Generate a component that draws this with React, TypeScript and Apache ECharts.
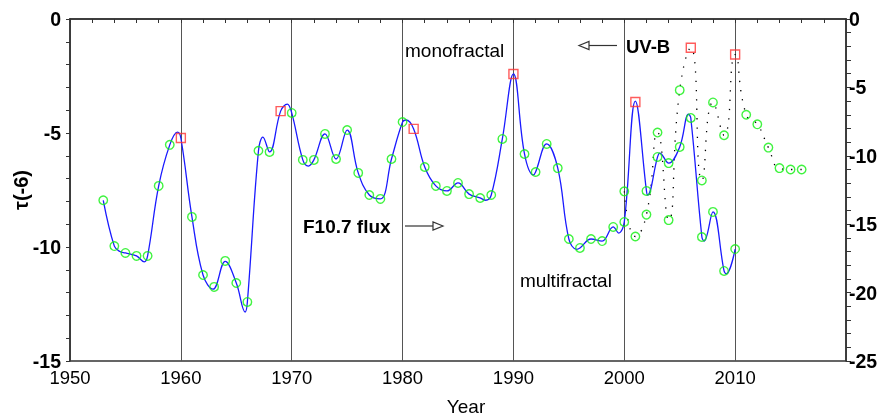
import React, { useEffect, useRef } from "react";
import * as echarts from "echarts";

// F10.7 flux annual values (left axis, green circles)
const circleYears = [1953,1954,1955,1956,1957,1958,1959,1961,1962,1963,1964,1965,1966,1967,1968,1970,1971,1972,1973,1974,1975,1976,1977,1978,1979,1980,1982,1983,1984,1985,1986,1987,1988,1989,1991,1992,1993,1994,1995,1996,1997,1998,1999,2000,2002,2003,2004,2005,2006,2007,2008,2009,2010];
const circleValues = [-7.95,-9.96,-10.26,-10.39,-10.39,-7.32,-5.52,-8.68,-11.23,-11.75,-10.61,-11.58,-12.41,-5.78,-5.83,-4.12,-6.18,-6.18,-5.04,-6.14,-4.87,-6.75,-7.72,-7.89,-6.14,-4.52,-6.49,-7.32,-7.54,-7.19,-7.68,-7.85,-7.72,-5.26,-5.92,-6.71,-5.48,-6.54,-9.65,-10.04,-9.65,-9.74,-9.12,-8.9,-7.54,-6.05,-6.32,-5.61,-4.34,-9.56,-8.46,-11.05,-10.09];

// Blue F10.7 curve (left axis)
const curveYears = [1953,1954,1954.5,1955,1956,1956.7,1957,1958,1959,1959.7,1960,1961,1962,1962.9,1964,1965,1965.8,1966,1967,1967.4,1968,1969,1969.6,1970,1971,1971.5,1972,1973,1974,1975,1976,1977,1978,1979,1980,1980.3,1981,1982,1983,1984,1985,1986,1987,1987.5,1988,1989,1990,1991,1991.8,1992,1993,1994,1995,1995.7,1996,1997,1998,1999,1999.5,2000,2001,2002,2002.1,2003,2003.2,2004,2005,2005.8,2006,2007,2007.2,2008,2009,2009.2,2010];
const curveValues = [-7.95,-9.96,-10.2,-10.26,-10.39,-10.65,-10.39,-7.32,-5.52,-4.96,-5.22,-8.68,-11.23,-11.85,-10.63,-11.58,-12.85,-12.41,-5.78,-5.18,-5.83,-4.04,-3.73,-4.12,-6.18,-6.45,-6.18,-5.04,-6.14,-4.87,-6.75,-7.72,-7.89,-6.14,-4.52,-4.43,-4.82,-6.49,-7.32,-7.54,-7.19,-7.68,-7.85,-7.95,-7.72,-5.26,-2.41,-5.92,-6.84,-6.71,-5.48,-6.54,-9.65,-10.1,-10.04,-9.65,-9.74,-9.12,-9.39,-8.9,-3.6,-7.54,-7.72,-6.05,-5.88,-6.32,-5.61,-4.17,-4.34,-9.56,-9.74,-8.46,-11.05,-11.18,-10.09];

// Solar-maximum markers (red squares, left axis)
const maxYears = [1960,1969,1981,1990,2001];
const maxValues = [-5.22,-4.04,-4.82,-2.41,-3.64];

// UV-B annual values (right axis)
const uvbYears = [2000,2001,2002,2003,2004,2005,2006,2007,2008,2009,2010,2011,2012,2013,2014,2015,2016];
const uvbValues = [-12.6,-15.9,-14.3,-8.3,-14.7,-5.2,-2.1,-11.8,-6.1,-8.5,-2.6,-7.0,-7.7,-9.4,-10.9,-11.0,-11.0];
const uvbMaxYears = [2006,2010];

const xTicks = [1950,1960,1970,1980,1990,2000,2010];

const GREEN = "#11f011";
const RED = "#ff3333";
const BLUE = "#1a1aff";
const AX = "#333";

export default function App() {
  const ref = useRef<HTMLDivElement>(null);
  useEffect(() => {
    const chart = echarts.init(ref.current!, null, { renderer: "svg" });
    const zip = (xs: number[], ys: number[]) => xs.map((x, i) => [x, ys[i]]);
    const uvbCircles = uvbYears
      .map((y, i) => [y, uvbValues[i]])
      .filter((p) => !uvbMaxYears.includes(p[0]));
    const uvbSquares = uvbYears
      .map((y, i) => [y, uvbValues[i]])
      .filter((p) => uvbMaxYears.includes(p[0]));
    const font = "'Liberation Sans', Arial, sans-serif";
    chart.setOption({
      animation: false,
      grid: { left: 70, right: 48, top: 19, bottom: 56, show: true, borderColor: AX, borderWidth: 1.5 },
      xAxis: {
        type: "value",
        min: 1950,
        max: 2020,
        interval: 10,
        axisLine: { lineStyle: { color: AX, width: 1.5 } },
        axisTick: { show: true, length: 4, lineStyle: { color: AX } },
        minorTick: { show: true, splitNumber: 5, length: 4, lineStyle: { color: AX } },
        splitLine: { show: true, lineStyle: { color: "#555", width: 1 } },
        axisLabel: {
          fontFamily: font,
          fontSize: 18.5,
          color: "#000",
          margin: 7,
          formatter: (v: number) => (xTicks.includes(v) ? String(v) : ""),
        },
      },
      yAxis: [
        {
          type: "value",
          min: -15,
          max: 0,
          interval: 5,
          axisLine: { show: true, lineStyle: { color: AX, width: 1.5 } },
          axisTick: { show: true, length: 4, lineStyle: { color: AX } },
          minorTick: { show: true, splitNumber: 5, length: 4, lineStyle: { color: AX } },
          splitLine: { show: false },
          axisLabel: { fontFamily: font, fontSize: 19.5, fontWeight: "bold", color: "#000", margin: 9 },
        },
        {
          type: "value",
          min: -25,
          max: 0,
          interval: 5,
          position: "right",
          axisLine: { show: true, lineStyle: { color: AX, width: 1.5 } },
          axisTick: { show: true, length: 5, lineStyle: { color: AX } },
          minorTick: { show: true, splitNumber: 5, length: 5, lineStyle: { color: AX } },
          splitLine: { show: false },
          axisLabel: { fontFamily: font, fontSize: 19.5, fontWeight: "bold", color: "#000", margin: 3 },
        },
      ],
      series: [
        {
          type: "line",
          yAxisIndex: 1,
          data: zip(uvbYears, uvbValues),
          smooth: 0.55,
          showSymbol: false,
          lineStyle: { color: "#000", width: 1.3, type: [1.3, 8] },
          z: 2,
        },
        {
          type: "line",
          data: zip(curveYears, curveValues),
          smooth: 0.4,
          showSymbol: false,
          lineStyle: { color: BLUE, width: 1.3 },
          z: 3,
        },
        {
          type: "scatter",
          data: zip(circleYears, circleValues),
          symbol: "circle",
          symbolSize: 8.5,
          itemStyle: { color: "rgba(0,0,0,0)", borderColor: GREEN, borderWidth: 1.4 },
          z: 4,
        },
        {
          type: "scatter",
          yAxisIndex: 1,
          data: uvbCircles,
          symbol: "circle",
          symbolSize: 8.5,
          itemStyle: { color: "rgba(0,0,0,0)", borderColor: GREEN, borderWidth: 1.4 },
          z: 4,
        },
        {
          type: "scatter",
          data: zip(maxYears, maxValues),
          symbol: "rect",
          symbolSize: 9,
          itemStyle: { color: "rgba(0,0,0,0)", borderColor: RED, borderWidth: 1.4 },
          z: 5,
        },
        {
          type: "scatter",
          yAxisIndex: 1,
          data: uvbSquares,
          symbol: "rect",
          symbolSize: 9,
          itemStyle: { color: "rgba(0,0,0,0)", borderColor: RED, borderWidth: 1.4 },
          z: 5,
        },
      ],
      graphic: [
        { type: "text", x: 21, y: 190, rotation: Math.PI / 2,
          style: { text: "τ(-6)", fontFamily: font, fontSize: 20, fontWeight: "bold", fill: "#000", align: "center", verticalAlign: "middle" } },
        { type: "text", x: 466, y: 406, style: { text: "Year", fontFamily: font, fontSize: 19, fill: "#000", align: "center", verticalAlign: "middle" } },
        { type: "text", x: 405, y: 50, style: { text: "monofractal", fontFamily: font, fontSize: 19, fill: "#000", align: "left", verticalAlign: "middle" } },
        { type: "text", x: 520, y: 280, style: { text: "multifractal", fontFamily: font, fontSize: 19, fill: "#000", align: "left", verticalAlign: "middle" } },
        { type: "text", x: 626, y: 46.5, style: { text: "UV-B", fontFamily: font, fontSize: 18.5, fontWeight: "bold", fill: "#000", align: "left", verticalAlign: "middle" } },
        { type: "text", x: 303, y: 226.5, style: { text: "F10.7 flux", fontFamily: font, fontSize: 19, fontWeight: "bold", fill: "#000", align: "left", verticalAlign: "middle" } },
        { type: "line", shape: { x1: 589, y1: 45.5, x2: 617, y2: 45.5 }, style: { stroke: AX, lineWidth: 1.2 } },
        { type: "polygon", shape: { points: [[579, 45.5], [589, 41.5], [589, 49.5]] }, style: { fill: "#fff", stroke: AX, lineWidth: 1.2 } },
        { type: "line", shape: { x1: 405, y1: 226, x2: 433, y2: 226 }, style: { stroke: AX, lineWidth: 1.2 } },
        { type: "polygon", shape: { points: [[443, 226], [433, 222], [433, 230]] }, style: { fill: "#fff", stroke: AX, lineWidth: 1.2 } },
      ],
    });
    return () => chart.dispose();
  }, []);
  return <div ref={ref} style={{ position: "fixed", left: 0, top: 0, width: 894, height: 417 }} />;
}
